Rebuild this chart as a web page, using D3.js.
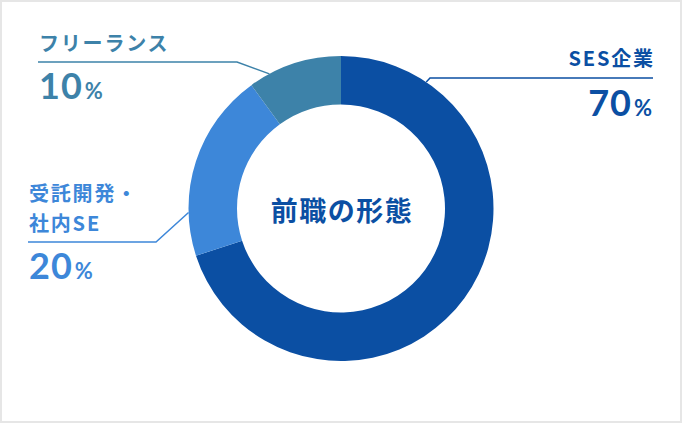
<!DOCTYPE html>
<html>
<head>
<meta charset="utf-8">
<script src="https://cdn.jsdelivr.net/npm/d3@7"></script>
<style>
  html, body { margin: 0; padding: 0; background: #fff; }
  svg { display: block; }
  .jp { font-family: 'Noto Sans CJK JP', 'Noto Sans', sans-serif; font-weight: 700; }
  .num { font-family: Lato, 'Noto Sans', sans-serif; font-weight: 700; }
</style>
</head>
<body>
<div id="chart"></div>
<script>
const categories = ['SES企業', '受託開発・社内SE', 'フリーランス']
const values = [70, 20, 10]
const labelLines = [['SES企業'], ['受託開発・', '社内SE'], ['フリーランス']]
const colours = ['#0b4fa3', '#3d87d9', '#3d82a9']
const title = '前職の形態'

let width = 682
let height = 423
let cx = 341
let cy = 208.5
let outerR = 152.5
let innerR = 104

// where each label sits and where its leader line touches the ring
let layout = [
    { anchorDeg: 34, elbowX: 430, lineY: 78, textX: 653, align: 'end', nameY: 66, pctY: 116 },
    { anchorDeg: 268.5, elbowX: 156, lineY: 242, textX: 29, align: 'start', nameY: 201, pctY: 279 },
    { anchorDeg: 332, elbowX: 237, lineY: 62, textX: 39, align: 'start', nameY: 51, pctY: 99 }
]

let svg = d3.select('#chart')
    .append('svg')
    .attr('width', width)
    .attr('height', height)

svg.append('rect')
    .attr('x', 1)
    .attr('y', 1)
    .attr('width', width - 2)
    .attr('height', height - 2)
    .attr('fill', '#fff')
    .attr('stroke', '#e6e6e6')
    .attr('stroke-width', 2)

let pie = d3.pie().sort(null).value((d) => d)
let arc = d3.arc().innerRadius(innerR).outerRadius(outerR)

let g = svg.append('g').attr('transform', `translate(${cx},${cy})`)

g.selectAll('path')
    .data(pie(values))
    .enter()
    .append('path')
    .attr('d', arc)
    .attr('fill', (d, i) => colours[i])

g.append('text')
    .attr('class', 'jp')
    .attr('x', 1)
    .attr('y', 12.5)
    .attr('text-anchor', 'middle')
    .attr('font-size', 27)
    .attr('letter-spacing', 1.5)
    .attr('fill', '#0b4fa3')
    .text(title)

categories.forEach((c, i) => {
    let l = layout[i]
    let p = d3.pointRadial(l.anchorDeg * Math.PI / 180, outerR)
    let ax = cx + p[0]
    let ay = cy + p[1]
    let endX = l.align === 'end' ? l.textX : l.textX - 1
    svg.append('polyline')
        .attr('points', `${endX},${l.lineY} ${l.elbowX},${l.lineY} ${ax},${ay}`)
        .attr('fill', 'none')
        .attr('stroke', colours[i])
        .attr('stroke-width', 1.5)

    let name = svg.append('text')
        .attr('class', 'jp')
        .attr('font-size', 20)
        .attr('letter-spacing', 1.8)
        .attr('fill', colours[i])
        .attr('text-anchor', l.align)
    labelLines[i].forEach((t, j) => {
        name.append('tspan')
            .attr('x', l.align === 'end' ? l.textX + 1.8 : l.textX)
            .attr('y', l.nameY + j * 30)
            .text(t)
    })

    let pct = svg.append('text')
        .attr('class', 'num')
        .attr('x', l.align === 'end' ? l.textX - 1 : l.textX)
        .attr('y', l.pctY)
        .attr('text-anchor', l.align)
        .attr('fill', colours[i])
    pct.append('tspan').attr('font-size', 36).attr('letter-spacing', 1).text(values[i])
    pct.append('tspan').attr('font-size', 22).attr('dx', 2).text('%')
})
</script>
</body>
</html>
